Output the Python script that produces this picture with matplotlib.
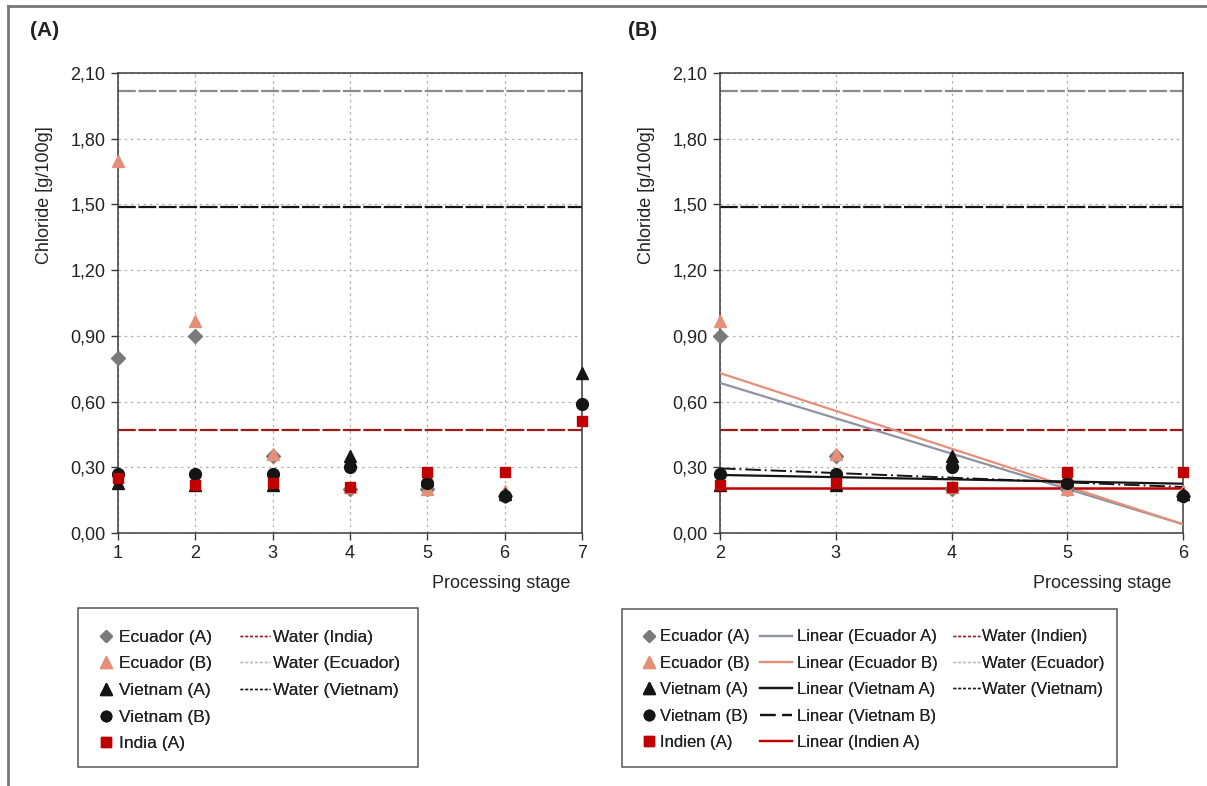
import matplotlib.pyplot as plt
from matplotlib.lines import Line2D
from matplotlib.patches import Rectangle
from matplotlib.ticker import FuncFormatter

plt.rcParams['font.family'] = ['Liberation Sans', 'DejaVu Sans']

# chloride content per processing stage (g/100g)
stages = [1, 2, 3, 4, 5, 6, 7]
ecuador_a = [0.80, 0.90, 0.35, 0.20, 0.20, 0.17, None]
ecuador_b = [1.70, 0.97, 0.36, 0.21, 0.20, 0.19, None]
vietnam_a = [0.23, 0.22, 0.22, 0.35, 0.24, 0.18, 0.73]
vietnam_b = [0.27, 0.27, 0.27, 0.30, 0.23, 0.17, 0.59]
india_a = [0.25, 0.22, 0.23, 0.21, 0.28, 0.28, 0.51]

# chloride in process water
water_ecuador = 2.02
water_vietnam = 1.49
water_india = 0.47

# linear trends for stages 2-6 (value at stage 2, value at stage 6)
trend_x = [2, 6]
trend_ecuador_a = [0.685, 0.04]
trend_ecuador_b = [0.73, 0.04]
trend_vietnam_a = [0.265, 0.225]
trend_vietnam_b = [0.295, 0.21]
trend_india_a = [0.205, 0.205]

c_gray = '#7a7a7a'
c_salmon = '#e58f78'
c_black = '#151515'
c_red = '#c00000'
c_water_red = '#9e1a1a'
c_water_gray = '#8a8a8a'
c_trend_gray = '#8e93a4'
c_text = '#222222'
fs = 13


def pick(vals, lo, hi):
    xs, ys = [], []
    for s, v in zip(stages, vals):
        if v is not None and lo <= s <= hi:
            xs.append(s)
            ys.append(v)
    return xs, ys


def setup(ax, xmin, xmax):
    ax.set_xlim(xmin, xmax)
    ax.set_ylim(0, 2.1)
    ax.set_xticks(range(xmin, xmax + 1))
    ax.set_yticks([0, 0.3, 0.6, 0.9, 1.2, 1.5, 1.8, 2.1])
    ax.yaxis.set_major_formatter(FuncFormatter(lambda v, p: ('%.2f' % v).replace('.', ',')))
    ax.grid(True, linestyle=(0, (2, 3)), color='#b0b0b0', linewidth=0.9)
    ax.set_axisbelow(True)
    for sp in ax.spines.values():
        sp.set_color('#3a3a3a')
        sp.set_linewidth(1.1)
    ax.tick_params(direction='out', length=5, width=1, color='#3a3a3a',
                   labelsize=fs, labelcolor=c_text, pad=4)
    ax.set_ylabel('Chloride [g/100g]', fontsize=fs, color=c_text)
    ax.yaxis.set_label_coords(-0.14, 0.735)
    ax.set_xlabel('Processing stage', fontsize=fs, color=c_text, loc='right')
    ax.xaxis.set_label_coords(0.975, -0.092)
    ax.axhline(water_ecuador, color=c_water_gray, linestyle=(0, (8, 1.2)), linewidth=1.6, zorder=2)
    ax.axhline(water_vietnam, color=c_black, linestyle=(0, (8, 1.2)), linewidth=1.6, zorder=2)
    ax.axhline(water_india, color=c_water_red, linestyle=(0, (8, 1.2)), linewidth=1.6, zorder=2)


def scatter(ax, lo, hi):
    ms = 8.5
    ax.plot(*pick(ecuador_a, lo, hi), 'D', color=c_gray, ms=ms - 1.5, ls='none', zorder=4, clip_on=False)
    ax.plot(*pick(ecuador_b, lo, hi), '^', color=c_salmon, ms=ms, ls='none', zorder=4, clip_on=False)
    ax.plot(*pick(vietnam_a, lo, hi), '^', color=c_black, ms=ms, ls='none', zorder=5, clip_on=False)
    ax.plot(*pick(vietnam_b, lo, hi), 'o', color=c_black, ms=ms, ls='none', zorder=5, clip_on=False)
    ax.plot(*pick(india_a, lo, hi), 's', color=c_red, ms=ms - 1, ls='none', zorder=6, clip_on=False)


fig = plt.figure(figsize=(12.07, 7.86), dpi=100)
W, H = 1207, 786
ax1 = fig.add_axes([118 / W, 1 - 533 / H, 464 / W, 460 / H])
ax2 = fig.add_axes([720 / W, 1 - 533 / H, 463 / W, 460 / H])

setup(ax1, 1, 7)
scatter(ax1, 1, 7)

setup(ax2, 2, 6)
ax2.plot(trend_x, trend_ecuador_a, color=c_trend_gray, lw=1.6, zorder=3)
ax2.plot(trend_x, trend_ecuador_b, color=c_salmon, lw=1.6, zorder=3)
ax2.plot(trend_x, trend_vietnam_a, color=c_black, lw=1.6, zorder=3)
ax2.plot(trend_x, trend_vietnam_b, color=c_black, lw=1.4, ls=(0, (8, 2, 1, 2)), zorder=3)
ax2.plot(trend_x, trend_india_a, color=c_red, lw=1.8, zorder=3)
scatter(ax2, 2, 6)

fig.text(30 / W, 1 - 31 / H, '(A)', fontsize=15, fontweight='bold', va='center', color=c_text)
fig.text(628 / W, 1 - 31 / H, '(B)', fontsize=15, fontweight='bold', va='center', color=c_text)

# outer frame
fig.add_artist(Line2D([8 / W, 8 / W], [0, 1 - 6 / H], color='#777777', lw=2))
fig.add_artist(Line2D([8 / W, 1], [1 - 6 / H, 1 - 6 / H], color='#777777', lw=2))


def mk(marker, color, ms=8):
    return Line2D([], [], marker=marker, color=color, ls='none', ms=ms)


def ln(color, ls='-', lw=1.6):
    return Line2D([], [], color=color, ls=ls, lw=lw)


def wl(color):
    return Line2D([], [], color=color, ls=(0, (2, 1.5)), lw=1)


markers = [mk('D', c_gray, 6.5), mk('^', c_salmon, 8.5), mk('^', c_black, 8.5),
           mk('o', c_black, 7.5), mk('s', c_red, 7.5)]
waters = [wl(c_water_red), wl('#bbbbbb'), wl(c_black)]
trends = [ln(c_trend_gray), ln(c_salmon), ln(c_black), ln(c_black, (0, (7, 3))), ln(c_red)]


def column(handles, labels, x, hl, pad, size=12.5):
    lg = fig.legend(handles, labels, bbox_to_anchor=(x / W, 1 - 621 / H), loc='upper left',
                    frameon=False, fontsize=size, labelspacing=0.66 * 12.5 / size, borderpad=0,
                    labelcolor=c_text, handlelength=hl, handletextpad=pad)
    fig.add_artist(lg)


# legend for panel A
fig.add_artist(Rectangle((78 / W, 1 - 767 / H), 340 / W, 159 / H, transform=fig.transFigure,
                         fill=False, edgecolor='#555555', lw=1.1))
column(markers, ['Ecuador (A)', 'Ecuador (B)', 'Vietnam (A)', 'Vietnam (B)', 'India (A)'], 89, 1.0, 0.2)
column(waters, ['Water (India)', 'Water (Ecuador)', 'Water (Vietnam)'], 231, 1.75, 0.15)

# legend for panel B
fig.add_artist(Rectangle((622 / W, 1 - 767 / H), 495 / W, 158 / H, transform=fig.transFigure,
                         fill=False, edgecolor='#555555', lw=1.1))
column(markers, ['Ecuador (A)', 'Ecuador (B)', 'Vietnam (A)', 'Vietnam (B)', 'Indien (A)'],
       632, 1.0, 0.2, 12)
column(trends, ['Linear (Ecuador A)', 'Linear (Ecuador B)', 'Linear (Vietnam A)',
                'Linear (Vietnam B)', 'Linear (Indien A)'], 752, 1.9, 0.3, 12)
column(waters, ['Water (Indien)', 'Water (Ecuador)', 'Water (Vietnam)'], 945, 1.6, 0.15, 12)

fig.savefig('out.png', dpi=100)
